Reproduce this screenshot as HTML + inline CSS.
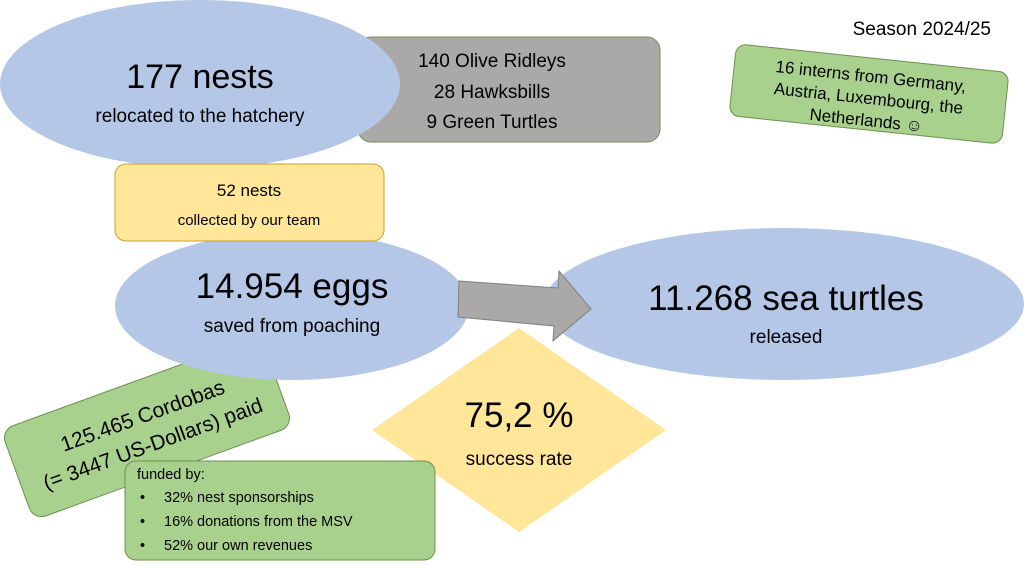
<!DOCTYPE html>
<html><head><meta charset="utf-8"><style>
html,body{margin:0;padding:0;background:#fff;}
svg{display:block;font-family:"Liberation Sans",sans-serif;}
</style></head><body>
<svg width="1024" height="568" viewBox="0 0 1024 568" xmlns="http://www.w3.org/2000/svg">
<rect width="1024" height="568" fill="#fff"/>
<rect x="358" y="37" width="302" height="105" rx="13" fill="#aba9a8" stroke="#6f8f4f" stroke-width="1"/>
<text text-anchor="middle" font-size="19" fill="#000"><tspan x="492" y="67">140 Olive Ridleys</tspan><tspan x="492" y="98">28 Hawksbills</tspan><tspan x="492" y="128">9 Green Turtles</tspan></text>
<ellipse cx="200" cy="84" rx="200" ry="84" fill="#b4c7e7"/>
<text x="200" y="88" text-anchor="middle" font-size="34">177 nests</text>
<text x="200" y="122" text-anchor="middle" font-size="19">relocated to the hatchery</text>
<g transform="translate(147,428) rotate(-20)">
<rect x="-138" y="-48" width="276" height="96" rx="13" fill="#a9d18e" stroke="#6f8f4f" stroke-width="1"/>
<text x="0" y="-6" text-anchor="middle" font-size="21">125.465 Cordobas</text>
<text x="0" y="24" text-anchor="middle" font-size="21">(= 3447 US-Dollars) paid</text>
</g>
<ellipse cx="292" cy="306" rx="177" ry="74" fill="#b4c7e7"/>
<rect x="115" y="164" width="269" height="77" rx="11" fill="#ffe699" stroke="#c9a227" stroke-width="1"/>
<text x="249" y="196" text-anchor="middle" font-size="17">52 nests</text>
<text x="249" y="225" text-anchor="middle" font-size="15">collected by our team</text>
<text x="292" y="298" text-anchor="middle" font-size="35">14.954 eggs</text>
<text x="292" y="332" text-anchor="middle" font-size="19">saved from poaching</text>
<ellipse cx="784" cy="304" rx="240" ry="76" fill="#b4c7e7"/>
<polygon points="459,281 558,288 559,271 591,309 553,341 554,326 458,317" fill="#aba9a8" stroke="#7f7f7f" stroke-width="1"/>
<text x="786" y="310" text-anchor="middle" font-size="35">11.268 sea turtles</text>
<text x="786" y="343" text-anchor="middle" font-size="19">released</text>
<polygon points="519,328 666,430 519,532 372,430" fill="#ffe699"/>
<text x="519" y="427" text-anchor="middle" font-size="35">75,2 %</text>
<text x="519" y="465" text-anchor="middle" font-size="19">success rate</text>
<rect x="125" y="461" width="310" height="99" rx="11" fill="#a9d18e" stroke="#6f8f4f" stroke-width="1"/>
<g font-size="14.5">
<text x="137" y="479">funded by:</text>
<text x="140" y="502">•</text><text x="164" y="502">32% nest sponsorships</text>
<text x="140" y="526">•</text><text x="164" y="526">16% donations from the MSV</text>
<text x="140" y="550">•</text><text x="164" y="550">52% our own revenues</text>
</g>
<text x="991" y="35" text-anchor="end" font-size="19">Season 2024/25</text>
<g transform="translate(869,94) rotate(6)">
<rect x="-137" y="-36" width="274" height="72" rx="10" fill="#a9d18e" stroke="#6f8f4f" stroke-width="1"/>
<text x="0" y="-12" text-anchor="middle" font-size="17">16 interns from Germany,</text>
<text x="0" y="10" text-anchor="middle" font-size="17">Austria, Luxembourg, the</text>
<text x="0" y="32" text-anchor="middle" font-size="17">Netherlands ☺</text>
</g>
</svg>
</body></html>
